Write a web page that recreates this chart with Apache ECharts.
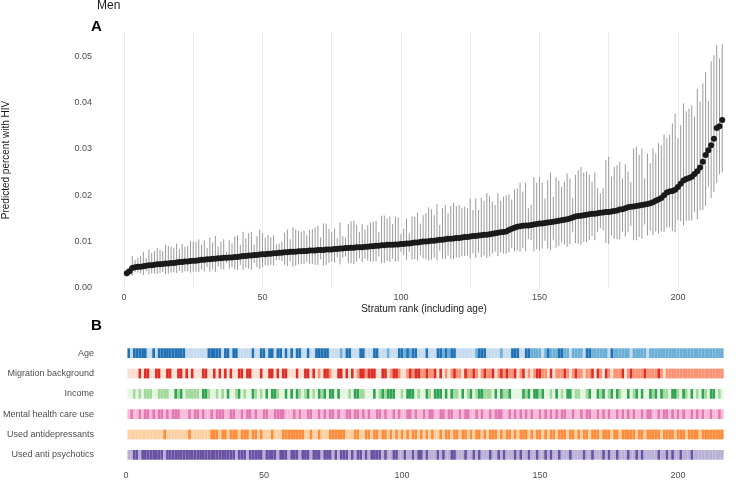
<!DOCTYPE html>
<html><head><meta charset="utf-8">
<script src="https://cdn.jsdelivr.net/npm/echarts@6/dist/echarts.min.js"></script>
<style>html,body{margin:0;padding:0;background:#fff}#c{width:750px;height:480px}</style>
</head><body><div id="c"></div>
<script>
// ---------- Panel A data (stratum rank 1..216) ----------
const estimate = [0.0032,0.0036,0.0043,0.0045,0.0046,0.0046,0.0047,0.0048,0.0049,0.0049,
0.0050,0.0051,0.0051,0.0052,0.0053,0.0053,0.0054,0.0054,0.0055,0.0056,
0.0056,0.0057,0.0057,0.0058,0.0059,0.0059,0.0060,0.0061,0.0061,0.0062,
0.0062,0.0063,0.0063,0.0064,0.0064,0.0065,0.0065,0.0066,0.0066,0.0067,
0.0067,0.0068,0.0069,0.0069,0.0070,0.0070,0.0071,0.0071,0.0072,0.0073,
0.0073,0.0074,0.0074,0.0075,0.0075,0.0076,0.0076,0.0077,0.0077,0.0078,
0.0078,0.0078,0.0079,0.0079,0.0080,0.0080,0.0081,0.0081,0.0081,0.0082,
0.0082,0.0082,0.0083,0.0083,0.0083,0.0084,0.0084,0.0085,0.0085,0.0086,
0.0086,0.0087,0.0087,0.0088,0.0088,0.0088,0.0089,0.0089,0.0090,0.0090,
0.0091,0.0091,0.0092,0.0092,0.0093,0.0093,0.0093,0.0094,0.0094,0.0095,
0.0095,0.0096,0.0096,0.0097,0.0098,0.0098,0.0099,0.0100,0.0100,0.0101,
0.0102,0.0102,0.0103,0.0104,0.0104,0.0105,0.0106,0.0106,0.0107,0.0108,
0.0108,0.0109,0.0110,0.0110,0.0111,0.0112,0.0112,0.0113,0.0114,0.0115,
0.0115,0.0116,0.0117,0.0118,0.0119,0.0120,0.0121,0.0122,0.0125,0.0128,
0.0130,0.0132,0.0133,0.0134,0.0135,0.0135,0.0136,0.0137,0.0138,0.0139,
0.0139,0.0140,0.0141,0.0142,0.0143,0.0144,0.0145,0.0146,0.0147,0.0148,
0.0150,0.0152,0.0154,0.0155,0.0156,0.0157,0.0158,0.0159,0.0160,0.0160,
0.0161,0.0162,0.0163,0.0164,0.0164,0.0165,0.0166,0.0167,0.0169,0.0170,
0.0172,0.0174,0.0175,0.0176,0.0177,0.0178,0.0179,0.0180,0.0181,0.0183,
0.0185,0.0188,0.0191,0.0194,0.0200,0.0206,0.0208,0.0209,0.0212,0.0218,
0.0225,0.0232,0.0235,0.0237,0.0240,0.0246,0.0252,0.0260,0.0272,0.0287,
0.0297,0.0308,0.0322,0.0345,0.0349,0.0362];

const upper = [0.0042,0.0046,0.0069,0.0060,0.0065,0.0069,0.0078,0.0064,0.0083,0.0075,
0.0080,0.0086,0.0082,0.0080,0.0093,0.0091,0.0089,0.0086,0.0096,0.0084,
0.0095,0.0089,0.0091,0.0101,0.0100,0.0100,0.0105,0.0093,0.0103,0.0086,
0.0109,0.0098,0.0112,0.0089,0.0100,0.0105,0.0078,0.0103,0.0096,0.0111,
0.0114,0.0093,0.0121,0.0107,0.0118,0.0121,0.0093,0.0112,0.0126,0.0118,
0.0108,0.0114,0.0109,0.0114,0.0094,0.0096,0.0100,0.0119,0.0126,0.0105,
0.0131,0.0126,0.0123,0.0121,0.0123,0.0114,0.0125,0.0127,0.0131,0.0134,
0.0109,0.0139,0.0139,0.0127,0.0121,0.0128,0.0107,0.0141,0.0112,0.0109,
0.0138,0.0144,0.0145,0.0136,0.0121,0.0138,0.0126,0.0135,0.0141,0.0143,
0.0145,0.0121,0.0156,0.0156,0.0150,0.0154,0.0138,0.0154,0.0152,0.0116,
0.0128,0.0150,0.0118,0.0154,0.0154,0.0162,0.0139,0.0157,0.0162,0.0174,
0.0170,0.0157,0.0181,0.0136,0.0172,0.0179,0.0161,0.0177,0.0184,0.0177,
0.0179,0.0172,0.0175,0.0172,0.0193,0.0168,0.0193,0.0168,0.0195,0.0188,
0.0205,0.0198,0.0186,0.0179,0.0205,0.0188,0.0197,0.0200,0.0202,0.0191,
0.0213,0.0215,0.0227,0.0208,0.0227,0.0172,0.0179,0.0239,0.0227,0.0239,
0.0227,0.0193,0.0233,0.0249,0.0197,0.0239,0.0231,0.0218,0.0229,0.0247,
0.0236,0.0193,0.0244,0.0254,0.0261,0.0249,0.0251,0.0244,0.0229,0.0249,
0.0215,0.0204,0.0215,0.0276,0.0283,0.0240,0.0261,0.0265,0.0272,0.0236,
0.0267,0.0251,0.0229,0.0301,0.0305,0.0287,0.0301,0.0236,0.0290,0.0269,
0.0301,0.0290,0.0312,0.0308,0.0331,0.0323,0.0330,0.0355,0.0376,0.0323,
0.0351,0.0398,0.0381,0.0387,0.0394,0.0369,0.0430,0.0402,0.0441,0.0466,
0.0403,0.0489,0.0502,0.0524,0.0495,0.0526];

const lower = [0.0024,0.0028,0.0027,0.0034,0.0033,0.0031,0.0028,0.0036,0.0029,0.0032,
0.0031,0.0030,0.0032,0.0034,0.0030,0.0031,0.0033,0.0034,0.0032,0.0037,
0.0033,0.0036,0.0036,0.0033,0.0035,0.0035,0.0034,0.0040,0.0036,0.0045,
0.0035,0.0040,0.0035,0.0046,0.0041,0.0040,0.0054,0.0042,0.0045,0.0040,
0.0039,0.0050,0.0039,0.0044,0.0042,0.0040,0.0054,0.0045,0.0041,0.0045,
0.0049,0.0048,0.0050,0.0049,0.0060,0.0060,0.0058,0.0050,0.0047,0.0058,
0.0046,0.0048,0.0051,0.0052,0.0052,0.0056,0.0052,0.0052,0.0050,0.0050,
0.0062,0.0048,0.0050,0.0054,0.0057,0.0055,0.0066,0.0051,0.0065,0.0068,
0.0054,0.0053,0.0052,0.0057,0.0064,0.0056,0.0063,0.0059,0.0057,0.0057,
0.0057,0.0068,0.0054,0.0054,0.0058,0.0056,0.0063,0.0057,0.0058,0.0078,
0.0071,0.0061,0.0078,0.0061,0.0062,0.0059,0.0071,0.0064,0.0062,0.0059,
0.0061,0.0066,0.0059,0.0080,0.0063,0.0062,0.0070,0.0063,0.0062,0.0066,
0.0065,0.0069,0.0069,0.0070,0.0064,0.0075,0.0065,0.0076,0.0067,0.0070,
0.0065,0.0068,0.0074,0.0078,0.0069,0.0077,0.0074,0.0074,0.0077,0.0086,
0.0079,0.0081,0.0078,0.0086,0.0080,0.0106,0.0103,0.0079,0.0084,0.0081,
0.0085,0.0102,0.0085,0.0081,0.0104,0.0087,0.0091,0.0098,0.0094,0.0089,
0.0095,0.0120,0.0097,0.0095,0.0093,0.0099,0.0099,0.0104,0.0112,0.0103,
0.0121,0.0129,0.0124,0.0097,0.0095,0.0113,0.0106,0.0105,0.0105,0.0122,
0.0111,0.0121,0.0134,0.0103,0.0103,0.0110,0.0106,0.0137,0.0113,0.0124,
0.0114,0.0122,0.0117,0.0122,0.0121,0.0131,0.0131,0.0123,0.0120,0.0147,
0.0144,0.0135,0.0145,0.0145,0.0146,0.0164,0.0148,0.0168,0.0168,0.0177,
0.0219,0.0194,0.0207,0.0227,0.0246,0.0249];

// ---------- Panel B data (level per stratum, 0 = lightest), ranks 1..216 in blocks of 10 ----------
const rowNames = ['Age','Migration background','Income','Mental health care use','Used antidepressants','Used anti psychotics'];
const ageLevels = ["2022222002","0222222222","2000000002","2222022022","0000020022",
  "0220220202","0220020022","2220000102","2000220002","2000100022",
  "1212200020","0022121220","0000001222","0000010002","2200221111",
  "0121112211","0111102211","1111021111","1101111101","1111111111",
  "1111111111","111111"].join('');
const migrationLevels = ["0000202200","2200220022","0202000220","0202020200","2202200020",
  "0220202200","0200220201","0221002202","0201221222","0022012210",
  "0121221121","1202010121","1021121012","1120121211","2012010122",
  "1102011121","0121101120","2102101112","0121111211","1121011111",
  "1111111111","111111"].join('');
const incomeLevels = ["0010101110","0111100212","0111110221","0010102001","2010021010",
  "2022100202","0210120102","1202202000","1022110002","0121222001",
  "0222010021","0222020211","0201201221","1102021120","0002120221",
  "2001020102","2011001200","2120120210","0201202002","1202110221",
  "0210201021","022010"].join('');
const mentalLevels = ["0100101101","0110101110","0010110100","1011100110","0101101001",
  "1001111000","1010011001","0101101001","1011010100","1101001010",
  "0110100101","1001101100","1011001010","0101110010","1010101001",
  "0101010110","0100101100","1010100101","0101001011","0010110101",
  "0100101010","010010"].join('');
const antidepLevels = ["0000000000","0001000000","0010000000","1110110111","0111011010",
  "0010001111","1111001001","0001111110","0011001101","1011010101",
  "0101101010","1001011011","0110101101","0111010110","1011101011",
  "0101101110","1101011011","1011101101","1111011011","1110111101",
  "1101111011","111111"].join('');
const antipsyLevels = ["0011011111","1110111111","1111111111","1111111110","1110111110",
  "1111011101","1101110111","0111010111","0101101011","1101001100",
  "1001011010","0010100110","0010010100","0100101000","1010010010",
  "0101001000","1000010010","0010100100","0100101000","0010010100",
  "1000100000","000000"].join('');

const xTicks = [0, 50, 100, 150, 200];
const yTicks = [0, 0.01, 0.02, 0.03, 0.04, 0.05];

const palettes = [
  ['#c6dbef', '#6baed6', '#2171b5'],
  ['#fee0d2', '#fc9272', '#de2d26'],
  ['#e5f5e0', '#a1d99b', '#31a354'],
  ['#f9b9d8', '#e377b1'],
  ['#fdd0a2', '#fd8d3c'],
  ['#b9b0d6', '#6a51a3']
];
const levelStrings = [ageLevels, migrationLevels, incomeLevels, mentalLevels, antidepLevels, antipsyLevels];

const ranks = estimate.map((_, i) => i + 1);
const barData = ranks.map((r, i) => [r, lower[i], upper[i]]);
const pointData = ranks.map((r, i) => [r, estimate[i]]);
const tileData = [];
levelStrings.forEach((s, row) => {
  s.split('').forEach((c, i) => tileData.push([i + 1, row, Number(c)]));
});

const FONT = 'Liberation Sans, Arial, sans-serif';
const GRID_LEFT = 124, GRID_W = 601;
const X_MAX = 217;

const chart = echarts.init(document.getElementById('c'), null, {renderer: 'canvas'});
chart.setOption({
  animation: false,
  backgroundColor: '#ffffff',
  grid: [
    {left: GRID_LEFT, top: 32, width: GRID_W, height: 256},
    {left: GRID_LEFT, top: 343, width: GRID_W, height: 123}
  ],
  xAxis: [
    {
      type: 'value', gridIndex: 0, min: 0, max: X_MAX, interval: 25,
      axisLine: {show: false}, axisTick: {show: false},
      axisLabel: {color: '#4d4d4d', fontSize: 9, fontFamily: FONT, margin: 5,
        formatter: v => xTicks.includes(v) ? String(v) : ''},
      splitLine: {show: true, showMaxLine: false, lineStyle: {color: '#ebebeb', width: 1}}
    },
    {
      type: 'value', gridIndex: 1, min: 0, max: X_MAX, interval: 50,
      axisLine: {show: false}, axisTick: {show: false},
      axisLabel: {color: '#4d4d4d', fontSize: 9, fontFamily: FONT, margin: 6,
        formatter: v => xTicks.includes(v) ? String(v) : ''},
      splitLine: {show: false}
    }
  ],
  yAxis: [
    {
      type: 'value', gridIndex: 0, min: 0, max: 0.0552, interval: 0.01,
      axisLine: {show: false}, axisTick: {show: false}, splitLine: {show: false},
      axisLabel: {color: '#4d4d4d', fontSize: 9, fontFamily: FONT, margin: 32,
        formatter: v => yTicks.some(t => Math.abs(t - v) < 1e-9) ? v.toFixed(2) : ''}
    },
    {
      type: 'category', gridIndex: 1, data: rowNames, inverse: true,
      axisLine: {show: false}, axisTick: {show: false}, splitLine: {show: false},
      axisLabel: {color: '#4d4d4d', fontSize: 9, fontFamily: FONT, margin: 32}
    }
  ],
  series: [
    {
      type: 'custom', xAxisIndex: 0, yAxisIndex: 0, data: barData,
      encode: {x: 0, y: [1, 2]}, z: 1, silent: true,
      renderItem: (params, api) => {
        const lo = api.coord([api.value(0), api.value(1)]);
        const hi = api.coord([api.value(0), api.value(2)]);
        return {type: 'line', shape: {x1: lo[0], y1: lo[1], x2: hi[0], y2: hi[1]},
          style: {stroke: '#9a9a9a', lineWidth: 1}};
      }
    },
    {
      type: 'scatter', xAxisIndex: 0, yAxisIndex: 0, data: pointData,
      symbol: 'circle', symbolSize: 6, z: 3,
      itemStyle: {color: '#1a1a1a', opacity: 1}
    },
    {
      type: 'custom', xAxisIndex: 1, yAxisIndex: 1, data: tileData,
      encode: {x: 0, y: 1}, z: 2, silent: true,
      renderItem: (params, api) => {
        const x = api.value(0), row = api.value(1), lvl = api.value(2);
        const p0 = api.coord([x - 0.5, row]);
        const p1 = api.coord([x + 0.5, row]);
        const h = api.size([0, 1])[1] * 0.48;
        return {type: 'rect', shape: {x: p0[0], y: p0[1] - h / 2, width: p1[0] - p0[0], height: h},
          style: {fill: palettes[row][lvl]}};
      }
    }
  ],
  graphic: [
    {type: 'text', left: 97, top: 0, style: {text: 'Men', font: '12px ' + FONT, fill: '#1a1a1a'}},
    {type: 'text', left: 91, top: 19, style: {text: 'A', font: 'bold 15px ' + FONT, fill: '#000'}},
    {type: 'text', left: 91, top: 318, style: {text: 'B', font: 'bold 15px ' + FONT, fill: '#000'}},
    {type: 'text', x: 6, y: 160, rotation: Math.PI / 2,
      style: {text: 'Predicted percent with HIV', font: '10px ' + FONT, fill: '#1a1a1a', align: 'center', verticalAlign: 'middle'}},
    {type: 'text', x: 424, y: 309,
      style: {text: 'Stratum rank (including age)', font: '10px ' + FONT, fill: '#1a1a1a', align: 'center', verticalAlign: 'middle'}}
  ]
});
</script>
</body></html>
